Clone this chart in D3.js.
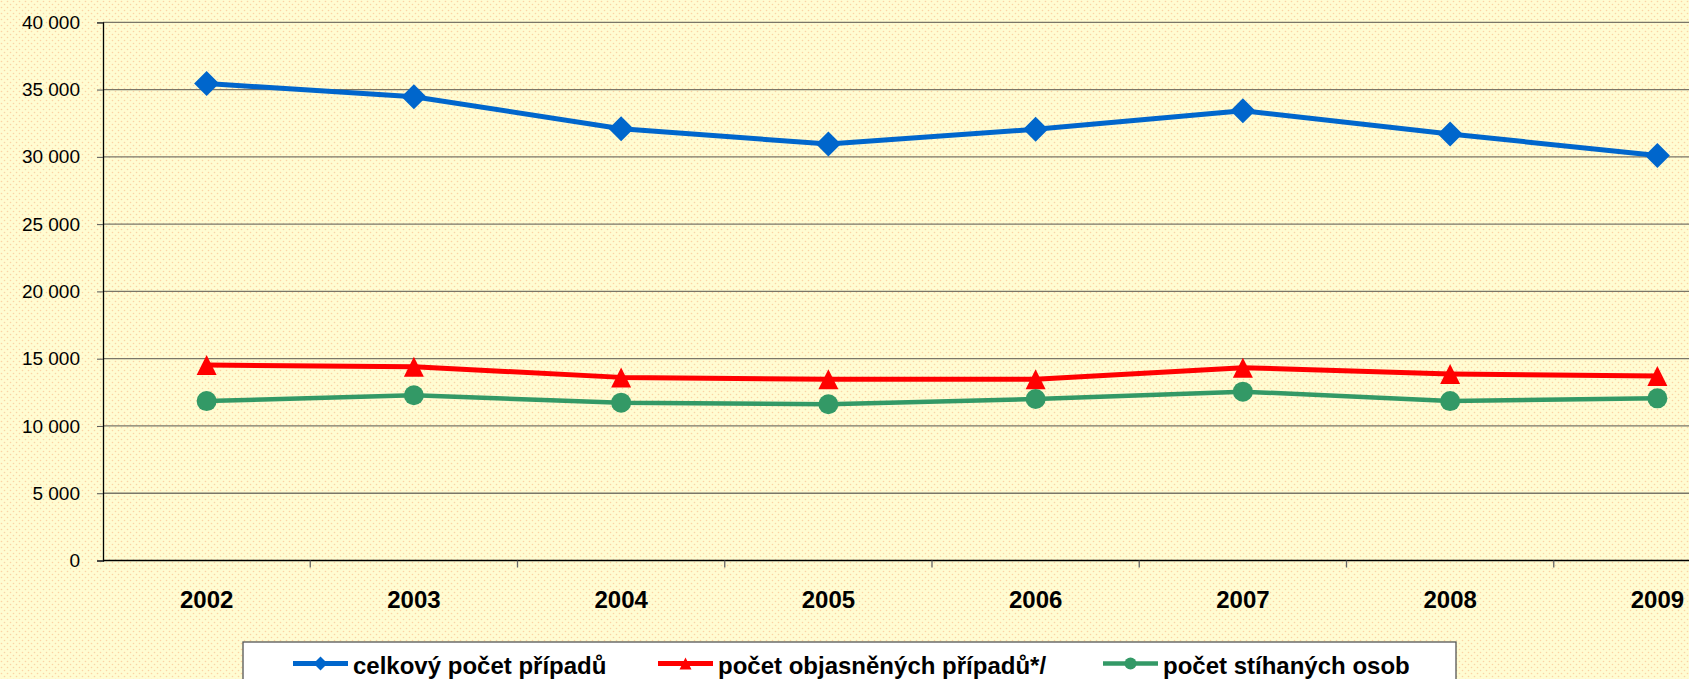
<!DOCTYPE html>
<html>
<head>
<meta charset="utf-8">
<script src="https://cdn.jsdelivr.net/npm/d3@7"></script>
<style>
  html, body { margin: 0; padding: 0; overflow: hidden; background: #fffbd0; }
  svg { display: block; font-family: "Liberation Sans", Arial, sans-serif; }
</style>
</head>
<body>
<div id="chart"></div>
<script>
// data
const years = ["2002", "2003", "2004", "2005", "2006", "2007", "2008", "2009"];
const totalCases = [35450, 34470, 32090, 30950, 32050, 33430, 31700, 30100];
const solvedCases = [14530, 14400, 13610, 13470, 13470, 14330, 13860, 13710];
const prosecuted = [11850, 12280, 11730, 11610, 12000, 12550, 11850, 12050];
const yTicks = [0, 5000, 10000, 15000, 20000, 25000, 30000, 35000, 40000];
const seriesNames = ["celkový počet případů", "počet objasněných případů*/", "počet stíhaných osob"];

// starting point
main();

function main() {
    const width = 1689, height = 679;
    const left = 103, top = 22.3, bottom = 560.5;
    const band = 207.25;

    const svg = d3.select("#chart")
        .append("svg")
        .attr("width", width)
        .attr("height", height);

    // dotted yellow background
    const defs = svg.append("defs");
    const pat = defs.append("pattern")
        .attr("id", "dots")
        .attr("width", 6).attr("height", 6)
        .attr("patternUnits", "userSpaceOnUse");
    pat.append("rect").attr("width", 6).attr("height", 6).attr("fill", "#fffcd2");
    pat.append("circle").attr("cx", 1.5).attr("cy", 1.5).attr("r", 0.8).attr("fill", "#fbd3a4");
    pat.append("circle").attr("cx", 4.5).attr("cy", 4.5).attr("r", 0.8).attr("fill", "#fbd3a4");
    svg.append("rect").attr("width", width).attr("height", height).attr("fill", "url(#dots)");

    // scales
    const x = d3.scaleBand().domain(years).range([left, left + band * years.length]);
    const y = d3.scaleLinear().domain([0, 40000]).range([bottom, top]);
    const cx = d => x(d) + x.bandwidth() / 2;

    // gridlines
    svg.append("g")
        .selectAll("line")
        .data(yTicks.filter(d => d > 0))
        .enter()
        .append("line")
        .attr("x1", left).attr("x2", width)
        .attr("y1", d => y(d)).attr("y2", d => y(d))
        .attr("stroke", "#7a7668")
        .attr("stroke-width", 1.3);

    // y axis
    const fmt = d3.formatLocale({ decimal: ",", thousands: " ", grouping: [3], currency: ["", ""] }).format(",");
    const yAxis = svg.append("g")
        .attr("transform", "translate(" + left + ",0)")
        .call(d3.axisLeft(y).tickValues(yTicks).tickSize(6).tickPadding(17).tickFormat(fmt));
    yAxis.select(".domain").attr("stroke", "#000").attr("stroke-width", 1.3);
    yAxis.selectAll(".tick line").attr("stroke", "#555");
    yAxis.selectAll("text")
        .attr("font-size", 19)
        .attr("font-family", "Liberation Sans, Arial, sans-serif")
        .attr("fill", "#000");

    // x axis
    const xAxis = svg.append("g")
        .attr("transform", "translate(0," + bottom + ")")
        .call(d3.axisBottom(x).tickSize(0).tickPadding(30));
    xAxis.select(".domain").remove();
    xAxis.selectAll("text")
        .attr("font-size", 24)
        .attr("font-weight", "bold")
        .attr("font-family", "Liberation Sans, Arial, sans-serif")
        .attr("fill", "#000");
    svg.append("line")
        .attr("x1", left).attr("x2", width)
        .attr("y1", bottom).attr("y2", bottom)
        .attr("stroke", "#000").attr("stroke-width", 1.5);
    // category boundary ticks
    svg.append("g")
        .selectAll("line")
        .data(years)
        .enter()
        .append("line")
        .attr("x1", d => x(d) + x.bandwidth()).attr("x2", d => x(d) + x.bandwidth())
        .attr("y1", bottom).attr("y2", bottom + 7)
        .attr("stroke", "#666").attr("stroke-width", 1.3);

    // marker shapes
    const diamond = s => "M0," + (-s) + "L" + s + ",0L0," + s + "L" + (-s) + ",0Z";
    const triangle = s => "M0," + (-s) + "L" + s + "," + s + "L" + (-s) + "," + s + "Z";

    const series = [
        { name: seriesNames[0], values: totalCases, color: "#0066cc", lw: 5, marker: "diamond" },
        { name: seriesNames[1], values: solvedCases, color: "#ff0000", lw: 5, marker: "triangle" },
        { name: seriesNames[2], values: prosecuted, color: "#339966", lw: 4.5, marker: "circle" }
    ];

    const line = d3.line()
        .x((d, i) => cx(years[i]))
        .y(d => y(d));

    function drawMarker(g, kind, color, s) {
        if (kind === "circle") {
            g.append("circle").attr("r", s).attr("fill", color);
        } else {
            g.append("path").attr("d", kind === "diamond" ? diamond(s) : triangle(s)).attr("fill", color);
        }
    }

    series.forEach(function(s) {
        svg.append("path")
            .datum(s.values)
            .attr("d", line)
            .attr("fill", "none")
            .attr("stroke", s.color)
            .attr("stroke-width", s.lw)
            .attr("stroke-linejoin", "round");
        svg.append("g")
            .selectAll("g")
            .data(s.values)
            .enter()
            .append("g")
            .attr("transform", (d, i) => "translate(" + cx(years[i]) + "," + y(d) + ")")
            .each(function() {
                drawMarker(d3.select(this), s.marker, s.color,
                    s.marker === "diamond" ? 12.5 : 10);
            });
    });

    // legend
    const legend = svg.append("g");
    legend.append("rect")
        .attr("x", 243).attr("y", 642)
        .attr("width", 1213).attr("height", 60)
        .attr("fill", "#fff")
        .attr("stroke", "#555")
        .attr("stroke-width", 1.3);
    const itemX = [293, 658, 1103];
    series.forEach(function(s, i) {
        const g = legend.append("g").attr("transform", "translate(" + itemX[i] + ",663.5)");
        g.append("line")
            .attr("x1", 0).attr("x2", 55)
            .attr("stroke", s.color).attr("stroke-width", s.lw);
        const m = g.append("g").attr("transform", "translate(27.5,0)");
        drawMarker(m, s.marker, s.color, s.marker === "diamond" ? 7 : 6);
        g.append("text")
            .attr("x", 60).attr("y", 10.5)
            .attr("font-size", 24)
            .attr("font-weight", "bold")
            .attr("fill", "#000")
            .text(s.name);
    });
}
</script>
</body>
</html>
